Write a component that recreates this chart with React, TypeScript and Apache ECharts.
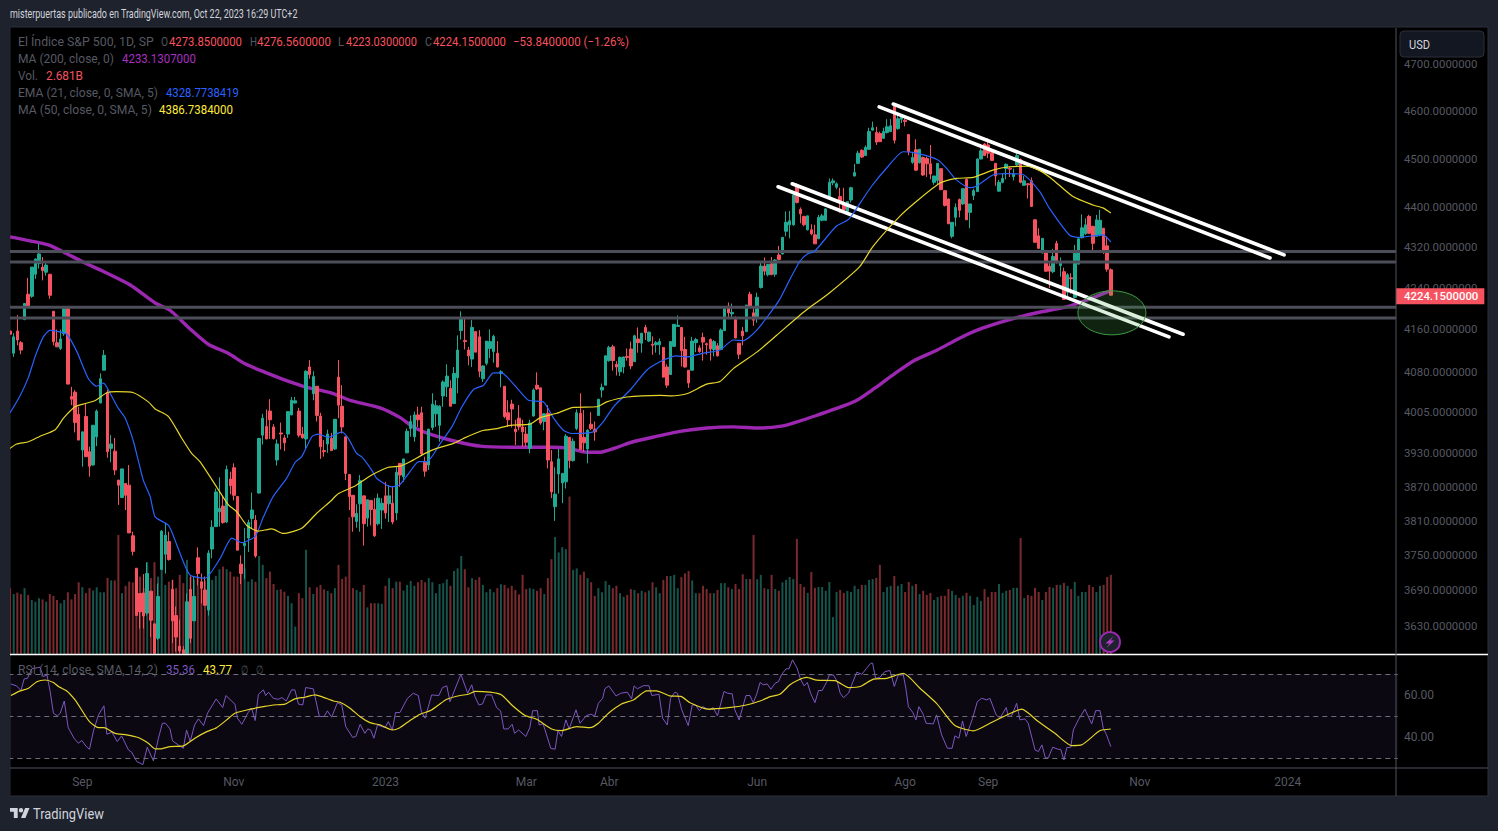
import React, { useEffect, useRef } from "react";
import * as echarts from "echarts";

// [open, close, low, high]
const candlesA: number[][] = [
[4155,4149,4138,4160],[4113,4144,4106,4151],[4155,4138,4128,4186],[4133,4119,4111,4136],[4177,4208,4176,4208],[4226,4203,4200,4258],[4222,4279,4219,4279],[4265,4295,4256,4296],[4286,4305,4276,4325],[4279,4272,4253,4299],
[4269,4283,4262,4291],[4265,4224,4217,4265],[4193,4135,4128,4193],[4133,4125,4125,4158],[4122,4140,4119,4158],[4150,4198,4146,4200],[4198,4055,4055,4201],[4032,4027,4016,4050],[4040,3984,3966,4044],[3999,3952,3952,4013],
[3934,3967,3904,3967],[3995,3922,3922,4019],[3931,3905,3886,3940],[3907,3979,3906,3979],[3958,4005,3941,4008],[4020,4065,4020,4075],[4081,4109,4081,4119],[4039,3931,3920,4044],[3937,3945,3912,3961],[3932,3898,3889,3956],
[3880,3871,3836,3880],[3849,3900,3849,3900],[3874,3853,3827,3874],[3871,3787,3787,3907],[3782,3755,3748,3789],[3726,3646,3646,3726],[3683,3652,3624,3683],[3684,3645,3624,3716],[3650,3717,3646,3736],[3687,3638,3610,3687],
[3632,3583,3583,3632],[3608,3678,3605,3700],[3724,3790,3724,3792],[3750,3783,3717,3805],[3772,3741,3739,3789],[3690,3637,3600,3706],[3646,3610,3586,3661],[3595,3587,3583,3639],[3589,3583,3582,3595],[3583,3669,3583,3683],
[3690,3608,3600,3712],[3637,3678,3637,3712],[3744,3717,3697,3762],[3703,3692,3666,3717],[3689,3663,3663,3712],[3655,3752,3646,3757],[3759,3797,3743,3809],[3798,3859,3798,3865],[3824,3830,3798,3885],[3834,3805,3803,3851],
[3806,3899,3804,3906],[3882,3870,3855,3895],[3902,3853,3844,3910],[3851,3757,3757,3851],[3733,3717,3699,3748],[3765,3769,3708,3795],[3778,3805,3754,3810],[3812,3827,3795,3858],[3809,3747,3744,3818],[3857,3955,3856,3956],
[3961,3992,3944,4000],[3977,3954,3954,4008],[4005,3989,3954,4027],[3976,3955,3953,3981],[3916,3945,3906,3953],[3965,3963,3935,3984],[3956,3947,3932,3961],[3963,4004,3956,4005],[3998,4025,3998,4031],[4020,4024,4019,4031],
[4005,3961,3957,4011],[3963,3956,3955,3976],[3954,4079,3937,4081],[4087,4073,4065,4100],[4037,4069,4025,4079],[4051,3997,3986,4051],[3996,3940,3918,4002],[3933,3931,3922,3952],[3945,3963,3929,3971],[3955,3933,3933,3965],
[3936,3990,3934,3990],[4068,4016,3992,4100],[4014,3976,3964,4053],[3958,3892,3880,3958],[3890,3851,3827,3890],[3853,3815,3789,3853],[3807,3821,3796,3837],[3838,3879,3789,3889],[3852,3803,3765,3852],[3813,3845,3798,3845],
[3844,3828,3800,3844],[3828,3782,3780,3848],[3803,3848,3800,3856],[3827,3839,3794,3848],[3852,3822,3812,3877],[3838,3852,3806,3871],[3839,3806,3802,3868],[3822,3894,3809,3904],[3910,3889,3868,3910],
];
const candlesB: number[][] = [
[3886,3918,3877,3918],[3929,3968,3928,3973],[3973,3986,3958,3997],[3958,3998,3949,4004],[3998,3989,3976,4013],[4002,3927,3925,4013],[3912,3896,3886,3922],[3907,3972,3898,3972],[3975,4018,3970,4038],[4000,4015,3976,4025],
[3979,4014,3949,4016],[4033,4059,4013,4062],[4050,4070,4031,4092],[4047,4014,4014,4062],[4019,4075,4018,4087],[4067,4119,4038,4147],[4156,4178,4139,4193],[4137,4135,4120,4181],[4119,4108,4090,4125],[4102,4162,4087,4176],
[4154,4115,4115,4154],[4144,4079,4068,4157],[4065,4089,4059,4090],[4094,4136,4090,4136],[4122,4135,4104,4158],[4116,4145,4095,4148],[4113,4087,4086,4136],[4075,4078,4049,4081],[4051,3995,3992,4051],[4002,3989,3976,4025],
[4018,4009,3975,4026],[3972,3967,3943,3989],[3992,3976,3970,4016],[3976,3967,3940,3989],[3963,3948,3940,3976],[3937,3983,3928,3989],[3996,4044,3995,4047],[4053,4046,4044,4077],[4048,3983,3980,4048],[3986,4000,3970,4001],
[4001,3916,3901,4016],[3913,3859,3848,3934],[3833,3855,3808,3903],[3891,3918,3856,3936],[3875,3892,3839,3892],[3877,3959,3865,3963],[3957,3915,3901,3957],[3915,3950,3913,3955],[3973,4002,3970,4008],[4001,3935,3934,4038],
[3957,3947,3931,4007],[3936,3970,3910,3972],[3981,3973,3970,4003],[3972,3967,3951,3986],[3997,4027,3996,4027],[4044,4049,4030,4056],[4053,4108,4053,4109],[4099,4124,4097,4127],[4125,4099,4080,4129],[4092,4087,4071,4098],
[4078,4105,4070,4107],[4087,4106,4075,4106],[4107,4105,4099,4122],[4121,4089,4083,4135],[4097,4146,4097,4148],[4140,4133,4114,4162],[4132,4151,4114,4151],[4162,4152,4138,4167],[4136,4153,4134,4154],[4130,4128,4110,4145],
[4129,4133,4114,4136],[4129,4135,4110,4141],[4124,4068,4068,4124],[4087,4053,4048,4092],[4073,4135,4072,4136],[4126,4168,4126,4168],[4164,4166,4163,4185],[4162,4118,4088,4162],[4120,4087,4086,4144],[4081,4057,4048,4081],
[4081,4136,4081,4144],[4133,4139,4115,4142],[4123,4116,4114,4128],[4143,4134,4099,4152],[4131,4129,4110,4133],[4139,4121,4099,4141],[4120,4135,4107,4138],[4127,4108,4107,4132],[4120,4157,4119,4160],[4156,4198,4155,4200],
[4203,4190,4178,4210],[4188,4191,4179,4208],[4177,4142,4141,4183],[4132,4111,4102,4132],[4155,4146,4128,4163],[4154,4205,4153,4205],[4226,4203,4201,4231],[4190,4176,4165,4203],[4179,4220,4171,4229],[4239,4281,4237,4288],
[4281,4271,4263,4298],[4264,4284,4261,4284],[4286,4264,4264,4299],[4265,4293,4260,4295],[4303,4294,4292,4321],[4305,4338,4304,4338],
];
const candlesC: number[][] = [
[4350,4368,4340,4390],[4363,4371,4336,4391],[4363,4423,4361,4426],[4443,4408,4406,4447],[4394,4385,4366,4398],[4380,4363,4360,4381],[4353,4381,4352,4381],[4353,4345,4342,4364],[4343,4325,4325,4363],[4335,4378,4335,4383],
[4372,4381,4370,4385],[4372,4395,4371,4396],[4420,4449,4420,4457],[4448,4452,4443,4457],[4439,4446,4435,4449],[4420,4409,4387,4438],[4403,4394,4393,4438],[4390,4410,4390,4410],[4413,4438,4408,4440],[4462,4469,4461,4487],
[4488,4509,4488,4514],[4515,4501,4499,4517],[4504,4521,4503,4525],[4517,4554,4517,4562],[4557,4562,4556,4575],[4552,4532,4526,4564],[4550,4533,4532,4554],[4540,4554,4539,4562],[4552,4564,4550,4580],[4554,4566,4554,4580],
[4607,4536,4529,4607],[4560,4581,4558,4592],[4580,4586,4572,4590],[4578,4575,4565,4582],[4548,4512,4505,4548],[4490,4500,4487,4512],[4516,4474,4472,4538],[4489,4517,4488,4517],[4500,4464,4462,4502],[4498,4487,4460,4502],
[4487,4466,4455,4526],[4449,4462,4444,4462],[4453,4488,4444,4488],[4477,4434,4433,4477],[4432,4402,4400,4432],[4415,4365,4365,4416],[4340,4368,4336,4368],[4378,4398,4360,4406],[4414,4392,4378,4416],[4405,4436,4403,4436],
[4455,4373,4373,4457],[4388,4405,4356,4405],[4422,4432,4413,4436],[4430,4497,4430,4498],[4497,4514,4496,4519],[4528,4504,4504,4530],[4526,4509,4499,4540],[4510,4494,4494,4511],[4488,4462,4442,4488],[4431,4449,4430,4454],
[4449,4457,4447,4467],[4477,4486,4455,4488],[4478,4476,4460,4482],[4461,4466,4453,4477],[4485,4504,4482,4512],[4496,4449,4447,4498],[4443,4452,4442,4462],[4446,4444,4416,4447],[4452,4400,4400,4459],[4373,4328,4328,4374],
[4341,4316,4315,4356],[4307,4336,4306,4336],[4309,4271,4270,4311],[4281,4271,4238,4290],[4270,4300,4267,4315],[4326,4288,4286,4331],[4282,4288,4260,4298],[4270,4216,4216,4278],[4230,4264,4221,4267],[4258,4256,4227,4267],
[4220,4306,4218,4323],[4285,4335,4284,4336],[4337,4357,4336,4384],[4345,4363,4343,4376],[4380,4346,4345,4383],[4360,4326,4311,4361],[4340,4373,4340,4383],[4342,4372,4340,4393],[4356,4310,4305,4357],[4321,4275,4270,4340],[4273.85,4224.15,4223.03,4276.56],
];
const candles = [...candlesA, ...candlesB, ...candlesC];

// volume in billions
const volumes: number[] = [
2.23,2.03,2.08,2.03,2.23,2.0,1.83,1.77,1.89,1.85,1.77,2.03,1.97,1.83,1.72,1.83,2.09,1.85,2.03,2.43,2.26,2.06,2.23,2.15,2.26,2.09,2.09,2.58,2.49,2.49,4.03,2.06,2.31,2.45,2.42,2.23,2.62,2.23,3.11,2.57,3.11,2.62,2.85,2.34,2.45,2.51,2.23,2.68,2.40,3.19,2.62,2.53,2.62,2.40,2.49,2.57,2.51,2.64,2.87,2.96,2.87,2.79,2.62,2.62,3.04,2.9,2.45,2.53,2.45,3.32,3.02,2.57,2.79,2.37,2.17,2.19,2.11,1.97,1.72,0.93,2.06,1.89,3.53,2.26,2.03,2.26,2.34,2.19,2.14,2.06,2.23,3.02,2.54,2.62,4.63,2.23,2.17,2.11,2.34,1.58,1.72,1.72,1.72,1.70,2.31,2.57,2.23,2.45,2.45,
2.15,2.34,2.47,2.31,2.43,2.51,2.43,2.57,2.43,2.06,2.37,2.40,2.53,2.31,2.81,2.90,3.32,2.87,2.26,2.57,2.51,2.60,2.34,2.09,2.20,2.09,2.23,2.36,2.34,2.23,2.31,2.17,2.02,2.68,2.20,2.23,2.20,2.14,2.23,2.03,2.57,3.21,3.96,3.44,3.62,3.55,5.33,2.85,2.90,2.68,2.79,2.57,2.43,1.97,2.23,2.09,2.47,2.34,2.23,2.31,2.06,1.94,2.00,2.20,2.17,2.06,2.14,2.09,2.15,2.43,2.26,2.06,2.51,2.64,2.64,2.68,2.23,2.60,2.73,2.81,2.49,2.06,2.06,2.31,2.20,2.06,2.06,2.17,2.40,2.40,2.26,2.20,2.37,2.20,2.70,2.54,2.54,4.03,2.53,2.68,2.23,2.20,2.68,2.20,2.14,2.43,
2.51,2.61,2.54,3.90,2.37,2.27,2.07,2.78,2.24,2.27,2.27,2.14,2.44,1.25,2.10,2.17,2.07,2.14,2.10,2.31,2.20,2.34,2.34,2.51,2.54,2.58,3.02,2.10,2.27,2.31,2.64,2.31,2.37,2.10,2.44,2.31,2.37,2.03,2.14,2.00,2.07,1.83,1.93,1.97,1.97,2.20,2.14,2.00,1.90,1.97,2.07,1.97,1.66,1.93,1.80,2.20,1.93,2.10,2.10,2.37,2.07,2.14,2.17,2.24,2.24,3.93,1.90,2.00,1.97,2.24,2.10,1.83,2.10,2.27,2.24,2.34,2.34,2.41,2.31,2.20,2.44,1.97,2.10,2.10,2.34,2.27,2.10,2.31,2.34,2.61,2.68,
];

// moving averages: [bar index, price], knots
const ma200: number[][] = [[0,4339],[8.3,4327],[11,4322],[15,4308],[20.8,4287],[26.3,4269],[33.3,4244],[40.2,4209],[44.3,4195],[49.9,4159],[54.9,4130],[60.4,4113],[65.1,4093],[70.7,4077],[77.6,4059],[81.7,4050],[88.7,4039],[94.2,4025],[102.5,4011],[108.1,3993],[111.7,3976],[117.2,3961],[123.9,3949],[130.2,3941],[139.4,3939],[149.6,3939],[154.3,3938],[159.9,3930],[163.5,3930],[168.2,3939],[172.6,3949],[180.1,3960],[185.6,3968],[193.1,3974],[200.3,3976],[207.8,3974],[214.2,3978],[218.9,3987],[223,3996],[228.6,4009],[234.1,4023],[239.7,4048],[245.2,4075],[250.8,4100],[256.9,4119],[263.2,4142],[269.6,4161],[281.8,4186],[292.9,4202],[298.4,4215],[305,4233.13]];
const ema21: number[][] = [[0,4002],[2.8,4034],[5.1,4068],[6.9,4106],[9.2,4144],[11.1,4157],[13.4,4154],[15.7,4149],[18.5,4116],[21.7,4065],[24,4051],[25.9,4057],[27.7,4038],[30,4010],[31.9,3992],[34.2,3949],[36.9,3880],[38.8,3851],[40.2,3815],[43.9,3800],[46.2,3766],[48,3737],[49.9,3714],[54,3709],[58.2,3743],[61.4,3778],[64.2,3770],[67.9,3781],[70.2,3815],[72.9,3851],[76.6,3883],[79,3912],[80.8,3922],[83.6,3958],[85.4,3963],[88.2,3957],[91.9,3967],[93.7,3955],[96,3928],[97.4,3922],[100.2,3898],[101.6,3883],[105.7,3868],[108,3872],[110.8,3895],[113.2,3913],[115.5,3913],[119.2,3946],[122.4,3976],[125.2,4013],[128.4,4045],[131.2,4053],[133.9,4076],[136.2,4076],[139.5,4055],[143.6,4025],[147.8,4022],[150.6,3992],[153.3,3970],[155.6,3964],[161.6,3967],[164.4,3986],[167.2,4013],[171.8,4044],[176.4,4081],[180.1,4097],[184.7,4108],[187.5,4106],[192.1,4113],[196.7,4119],[200.4,4138],[203.2,4137],[206.9,4157],[212.9,4212],[216,4254],[218.8,4290],[221.1,4306],[222.9,4310],[228.9,4360],[232.2,4373],[234,4390],[238.6,4440],[243.3,4482],[247.4,4512],[251.1,4509],[257.1,4495],[259.9,4474],[262.2,4454],[265.9,4438],[267.7,4441],[272.3,4464],[276,4467],[280.6,4465],[285.3,4430],[288,4396],[293.6,4342],[296.3,4338],[302.8,4343],[305,4328.77]];
const ma50: number[][] = [[0,3937],[1.8,3945],[5.1,3949],[8.3,3959],[12.5,3971],[14.8,3992],[18,4013],[20.8,4019],[23.5,4024],[26.8,4039],[29.5,4041],[34.2,4039],[38.3,4022],[40.2,4009],[43.9,3995],[47.6,3955],[50.3,3928],[52.6,3913],[57.2,3868],[60.5,3836],[62.8,3824],[65.6,3800],[68.8,3790],[72.5,3794],[75.7,3786],[80.8,3795],[84.9,3821],[88.7,3842],[91,3856],[95.1,3868],[100.2,3889],[104.8,3903],[108,3905],[110.8,3913],[115,3928],[118.2,3937],[122.9,3946],[125.6,3955],[130.7,3969],[134.9,3973],[138.5,3979],[144.1,3981],[146.9,3993],[151.5,4001],[156.1,4012],[162.6,4013],[165.3,4022],[170.9,4031],[180.1,4034],[183.3,4033],[187.5,4037],[193,4055],[196.7,4060],[200.4,4084],[206.9,4115],[212.4,4147],[218.9,4186],[221.1,4198],[227.1,4229],[235.4,4280],[239.1,4320],[246.5,4380],[251.6,4413],[257.6,4447],[262.2,4457],[266.8,4459],[272.3,4474],[277,4481],[281.6,4482],[285.3,4473],[288.5,4457],[294.5,4420],[300,4403],[302.8,4397],[305,4386.74]];

const rsi: number[][] = [[0.2,65.2],[1.8,64.3],[3,62.1],[3.9,67.6],[4.8,67.9],[6,72.4],[8.3,73.2],[9.2,68.7],[10.2,69.5],[11.1,61.6],[12,51.3],[13.1,50],[13.9,51.3],[15,57.1],[16.1,44.4],[17.7,39.4],[18.9,37],[19.9,38.3],[21.1,35.4],[22,34.1],[23.1,42.9],[24.5,50.5],[26,54.8],[26.8,41.3],[28.2,42.2],[29.7,37.8],[30.9,40.5],[32.8,33.8],[33.7,32.7],[35.1,28.3],[36.8,26.8],[38,35.1],[39.7,28.6],[41.1,39.4],[42.2,46.5],[43.1,46.5],[44.3,43.8],[45,38.1],[46.6,36.2],[48,34.6],[48.9,43.3],[49.9,37.8],[51.1,45.7],[52.2,48.6],[53.6,45.4],[54.7,51.3],[57.1,58.1],[58.9,54],[59.8,59.7],[62.3,55.6],[63,48.9],[64.2,46],[66,51.7],[66.9,53.7],[67.9,47.8],[68.8,60.3],[70.2,62.4],[70.8,59.7],[71.6,61.3],[72.9,58.4],[74.3,57.9],[75.3,58.7],[76.5,57.1],[78,62.4],[78.9,62.4],[79.9,55.6],[81.1,55.2],[81.9,63.5],[84,62.9],[85.7,49.7],[87,49.7],[87.9,52.4],[89.1,49.4],[90.7,56.3],[91.9,55.2],[93,44.9],[94.9,39.8],[95.8,40.2],[97,46],[98.3,41.7],[99.1,43.8],[99.9,43.3],[100.8,39.4],[101.8,45.7],
[103.9,44.4],[104.8,47.3],[105.9,43.3],[106.8,51.6],[108,51.6],[110.1,58.4],[111.7,60.8],[113.1,59.7],[114,51.7],[115,48.9],[116.8,60],[118.8,59.7],[119.8,63.5],[121,64.3],[121.9,56.8],[124.9,69.8],[126.8,60.8],[127.9,64.8],[128.8,59.2],[129.9,55.2],[130.9,55.7],[131.9,60],[133.4,60],[134.8,54],[135.9,52.4],[136.8,43.8],[138,43.8],[139.1,46],[139.8,41.7],[140.9,43.3],[142.9,40.2],[144,44.4],[144.8,52.5],[146.1,52.5],[146.6,45.7],[147.7,46.2],[149.8,34.6],[151,34.1],[151.8,42.9],[152.8,40.2],[154,48.1],[154.9,43.8],[156.8,52.9],[157.9,46.5],[159.7,50.2],[160.9,50.8],[162,50],[163,56],[164.2,58.4],[164.8,62.9],[165.9,64.3],[167.9,59.5],[169.2,60.8],[171,61.3],[172.2,58.1],[172.9,64.3],[173.8,62.9],[175.5,64.4],[177,64.4],[177.8,59.7],[179.8,60.3],[180.8,48.9],[182.1,45.7],[183,58.4],[184.2,61.3],[184.9,60.8],[186.1,52.9],[187.9,45.4],[189,55.2],[189.9,55.2],[191,52.5],[191.9,54.4],[193.7,52.9],[194.8,54],[196,50],[197.8,61.6],[198.8,60.8],[200.1,60.5],[200.8,52.9],[202,48.1],[203.9,59.7],[205,59.7],[205.9,56.3],[206.8,60],[207.8,65.9],
[208.7,64.8],[209.8,65.2],[210.8,62.7],[212,65.6],[212.9,66.3],[213.8,69.8],[215,72.4],[215.8,72.4],[216.8,76.7],[218,73],[219,67.5],[220,64.3],[220.9,65.9],[221.8,60.8],[223,56.3],[224,62.1],[225,62.1],[226.3,66.3],[227,69.5],[228.1,69.5],[229.2,66.3],[230,60.8],[230.9,58.7],[232.3,60.8],[233.2,64.8],[234.6,70.8],[236,69.8],[237.3,72.7],[238.5,75.1],[239,75.1],[239.8,67.9],[241,68.3],[242.4,71.1],[243.8,71.6],[245,64],[246.1,69.5],[247.5,69.5],[248.2,63.2],[248.9,54.4],[250.1,51.7],[251,48.1],[251.8,54.4],[253,50.8],[253.8,46.5],[255.8,46.2],[256.7,50.5],[258.1,41],[259.7,34.6],[261,34.6],[261.8,40.5],[262.9,39.4],[263.9,47.6],[264.9,40.2],[266.7,48.9],[268,56.8],[269.2,58.4],[270.6,57.6],[271.5,58.4],[273.2,50.5],[274.3,48.9],[276,54],[276.6,49.7],[277.5,50],[278.9,56],[279.8,48.1],[281.2,48.6],[282.1,46.5],[284,33.8],[284.9,33],[285.9,36.2],[286.9,29.8],[287.7,30.2],[288.9,35.1],[290.4,34.1],[291.1,34.1],[292,29],[292.8,34.9],[293.9,35.1],[294.6,43.3],[296,48.1],[297.8,53.2],[299.7,46.2],[300.8,52.5],[302,52.5],[302.9,44.1],[303.8,41],[305,35.36]];
const rsiMa: number[][] = [[0.2,59.7],[2.8,61.9],[5.1,63.2],[7.4,66.3],[9.7,67.1],[12,65.9],[13.4,64],[15.7,61.9],[18,57.6],[20.1,52.1],[22,47.3],[24.5,44.4],[26,44.4],[29.1,41.7],[32.3,41],[35.5,39.7],[38.3,37],[40.2,34.3],[41.6,34.3],[44.3,35.4],[48,35.7],[51.2,39.4],[54.5,42.5],[57.2,44.4],[60,48.1],[62.3,51.3],[66.5,53.2],[70.2,54.4],[72.9,55.2],[76.2,55.6],[78.9,58.1],[81.7,58.9],[84.5,60],[86.3,59.2],[89.6,57.1],[91.4,56.5],[94.2,53.7],[96.9,49.7],[99.7,46.8],[102.5,45.7],
[105.9,43.3],[108,44.4],[110.8,47.8],[113.6,50.8],[116.4,52.5],[118.7,55.2],[121,57.9],[124.7,59.7],[127,60.3],[128.8,61.7],[133,61.3],[136.2,60],[139,55.2],[142.7,50.2],[145.9,48.4],[150,43.8],[152.8,43],[157,44.9],[160.7,44.4],[163,46.5],[165.8,51.3],[169.4,55.7],[172.7,57.6],[176.4,61.9],[179.1,61.9],[182.8,59.5],[186,59.2],[188.4,56.3],[193.5,53.2],[199,53.9],[204,55.2],[207.8,57.1],
[210.6,59.2],[213.3,60.3],[216.1,64.8],[218.4,67.1],[220.7,68.3],[223.5,67],[228.6,66.8],[232.3,63.5],[235.5,64],[239.2,67.5],[242.9,67.9],[247.5,70.3],[252.1,63.2],[256.7,56],[261.8,45.4],[266.9,42.9],[271.5,46.5],[276.6,50.8],[280.3,53.2],[284.9,47.3],[289.5,41.7],[294.1,35.9],[296.9,36.2],[301.9,42.9],[305,43.77]];

const rsiBands = [70, 50, 30];
const levelPrices = [4310, 4289, 4201, 4180];
const trendLines: number[][][] = [
  [[244.7, 4612], [353, 4303]],
  [[240.8, 4606], [349.1, 4297]],
  [[216.7, 4446], [325, 4149]],
  [[212.8, 4440], [321.1, 4144]],
];
const zone = [305.3, 4190];
const priceTicks = [4700, 4600, 4500, 4400, 4320, 4240, 4160, 4080, 4005, 3930, 3870, 3810, 3750, 3690, 3630];
const lastPrice = 4224.15;
const rsiTicks = [40, 60];
const timeTicks: Record<number, string> = { 20: "Sep", 62: "Nov", 104: "2023", 143: "Mar", 166: "Abr", 207: "Jun", 248: "Ago", 271: "Sep", 313: "Nov", 354: "2024" };

const SLOTS = 385;
const slotLabels = Array.from({ length: SLOTS }, (_, i) => timeTicks[i] || "");

const BG = "#1e222d";
const GREEN = "#22ab94";
const RED = "#f7525f";
const DIM = "#565963";
const LOGO = "M14 22H7V11H0V4h14v18zM28 22h-8l7.5-18h8L28 22zM24 8a4 4 0 1 1-8 0 4 4 0 0 1 8 0z";
echarts.graphic.registerShape("tvlogo", echarts.graphic.extendPath(LOGO, {}) as any);

const FONT = "Roboto";
const measureCtx = document.createElement("canvas").getContext("2d")!;
function txt(x: number, y: number, text: string, width: number, fill: string, size = 12, weight: any = "normal") {
  measureCtx.font = `${weight} ${size}px ${FONT}`;
  const w = measureCtx.measureText(text).width || 1;
  return {
    type: "text", x, y, scaleX: width / w, z: 60, silent: true,
    style: { text, fill, font: `${weight} ${size}px ${FONT}`, verticalAlign: "middle", align: "left" },
  };
}

export default function App() {
  const ref = useRef<HTMLDivElement>(null);
  useEffect(() => {
    const chart = echarts.init(ref.current!, undefined, { renderer: "svg" });
    const levelSeries = levelPrices.map((p) => ({
      type: "line", xAxisIndex: 1, yAxisIndex: 0, data: [[-0.5, p], [384, p]], symbol: "none", z: 5, silent: true,
      lineStyle: { color: "#4c4e59", width: 3 },
    }));
    const trendSeries = trendLines.map((d) => ({
      type: "line", xAxisIndex: 1, yAxisIndex: 0, data: d, symbol: "none", z: 6, silent: true, clip: false,
      lineStyle: { color: "#ffffff", width: 3.6, cap: "round" },
    }));
    const G: any[] = [
      { type: "rect", z: -5, silent: true, shape: { x: 10, y: 27, width: 1478, height: 769 }, style: { fill: "#000", stroke: "#2a2e39", lineWidth: 1 } },
      { type: "rect", z: 50, silent: true, shape: { x: 0, y: 28, width: 10, height: 768 }, style: { fill: BG } },
      { type: "line", z: 52, silent: true, shape: { x1: 10, y1: 654.5, x2: 1488, y2: 654.5 }, style: { stroke: "#ffffff", lineWidth: 1.5 } },
      { type: "line", z: 52, silent: true, shape: { x1: 10, y1: 768, x2: 1488, y2: 768 }, style: { stroke: "#50535e", lineWidth: 1 } },
      { type: "line", z: 52, silent: true, shape: { x1: 1396, y1: 28, x2: 1396, y2: 796 }, style: { stroke: "#50535e", lineWidth: 1 } },
      { type: "rect", z: 55, silent: true, shape: { x: 1400, y: 31, width: 84, height: 26, r: 4 }, style: { fill: "#131722", stroke: "#2a2e39", lineWidth: 1 } },
      txt(1409, 45, "USD", 21, "#d1d4dc", 12),
      txt(10, 14, "misterpuertas publicado en TradingView.com, Oct 22, 2023 16:29 UTC+2", 288, "#d1d4dc", 12.5),
      txt(18, 42, "El Índice S&P 500, 1D, SP", 136, DIM),
      txt(161, 42, "O", 7, DIM), txt(169, 42, "4273.8500000", 73, RED),
      txt(250, 42, "H", 7, DIM), txt(257, 42, "4276.5600000", 74, RED),
      txt(338, 42, "L", 6, DIM), txt(346, 42, "4223.0300000", 71, RED),
      txt(425, 42, "C", 7, DIM), txt(433, 42, "4224.1500000", 73, RED),
      txt(513, 42, "−53.8400000 (−1.26%)", 116, RED),
      txt(18, 59, "MA (200, close, 0)", 96, DIM), txt(122, 59, "4233.1307000", 74, "#a92fc0"),
      txt(18, 76, "Vol.", 20, DIM), txt(46, 76, "2.681B", 37, RED),
      txt(18, 93, "EMA (21, close, 0, SMA, 5)", 140, DIM), txt(166, 93, "4328.7738419", 73, "#2962ff"),
      txt(18, 110, "MA (50, close, 0, SMA, 5)", 134, DIM), txt(159, 110, "4386.7384000", 74, "#ffeb3b"),
      txt(18, 670, "RSI (14, close, SMA, 14, 2)", 140, DIM), txt(166, 670, "35.36", 29, "#7e57c2"),
      txt(203, 670, "43.77", 29, "#ffeb3b"), txt(241, 670, "∅", 7, DIM), txt(256, 670, "∅", 7, DIM),
      { type: "tvlogo", x: 10, y: 805.8, scaleX: 0.55, scaleY: 0.55, z: 60, silent: true, style: { fill: "#d1d4dc" } },
      txt(33, 814, "TradingView", 71, "#d1d4dc", 14, 400),
      { type: "circle", z: 58, silent: true, shape: { cx: 1110, cy: 642, r: 10 }, style: { fill: "#1e222d", stroke: "#9c27b0", lineWidth: 2 } },
      { type: "polygon", z: 59, silent: true, shape: { points: [[1113.5, 636], [1105.5, 643.5], [1109.5, 643.5], [1106.5, 648], [1114.5, 640.5], [1110.5, 640.5]] }, style: { fill: "#b13cc7" } },
    ];
    chart.setOption({
      animation: false,
      backgroundColor: BG,
      textStyle: { fontFamily: FONT },
      grid: [
        { left: 8.3, top: 28, width: SLOTS * 3.609, height: 626 },
        { left: 8.3, top: 655, width: SLOTS * 3.609, height: 113 },
      ],
      xAxis: [
        { type: "category", gridIndex: 0, data: slotLabels, show: false, boundaryGap: true },
        { type: "value", gridIndex: 0, min: -0.5, max: SLOTS - 0.5, show: false },
        {
          type: "category", gridIndex: 1, data: slotLabels, boundaryGap: true, position: "bottom",
          axisLine: { show: false }, axisTick: { show: false },
          axisLabel: { interval: (_: number, v: string) => v !== "", color: DIM, fontSize: 12, margin: 8, fontFamily: FONT },
        },
        { type: "value", gridIndex: 1, min: -0.5, max: SLOTS - 0.5, show: false },
      ],
      yAxis: [
        { type: "log", gridIndex: 0, min: 3582, max: 4776, show: false },
        { type: "value", gridIndex: 0, min: 0, max: 21.2, show: false },
        {
          type: "value", gridIndex: 1, min: 25.2, max: 79, position: "right", splitLine: { show: false },
          axisLine: { show: false }, axisTick: { show: false },
          axisLabel: { customValues: rsiTicks, color: DIM, fontSize: 12, margin: 6.2, formatter: (v: number) => v.toFixed(2), fontFamily: FONT },
        },
      ],
      graphic: G,
      series: [
        {
          type: "bar", xAxisIndex: 0, yAxisIndex: 1, barWidth: 2, z: 1, silent: true,
          data: volumes.map((v, i) => ({
            value: v,
            itemStyle: { color: candles[i][1] >= candles[i][0] ? "#16544c" : "#7a2a2e" },
          })),
        },
        { type: "line", xAxisIndex: 1, yAxisIndex: 0, data: ma200, symbol: "none", smooth: 0.25, z: 2, silent: true, lineStyle: { color: "#9c27b0", width: 3.4 } },
        {
          type: "candlestick", xAxisIndex: 0, yAxisIndex: 0, data: candles, barWidth: 3, z: 3, silent: true,
          itemStyle: { color: GREEN, color0: RED, borderColor: GREEN, borderColor0: RED, borderWidth: 1 },
        },
        ...levelSeries,
        { type: "line", xAxisIndex: 1, yAxisIndex: 0, data: ema21, symbol: "none", smooth: 0.2, z: 7, silent: true, lineStyle: { color: "#2962ff", width: 1.2 } },
        { type: "line", xAxisIndex: 1, yAxisIndex: 0, data: ma50, symbol: "none", smooth: 0.2, z: 7, silent: true, lineStyle: { color: "#e6d52a", width: 1.2 } },
        ...trendSeries,
        {
          type: "custom", xAxisIndex: 1, yAxisIndex: 0, data: [zone], z: 8, silent: true, clip: false,
          renderItem: (_: any, api: any) => {
            const c = api.coord([api.value(0), api.value(1)]);
            return {
              type: "ellipse", shape: { cx: c[0], cy: c[1], rx: 34, ry: 22 },
              style: { fill: "rgba(76,175,80,0.2)", stroke: "#3f9d46", lineWidth: 1 },
            };
          },
        },
        {
          type: "scatter", xAxisIndex: 1, yAxisIndex: 0, clip: false, silent: true, symbolSize: 1, z: 20,
          itemStyle: { color: "transparent", opacity: 1 },
          data: priceTicks.map((p) => [SLOTS - 0.5, p]),
          label: { show: true, position: "right", distance: 5.7, offset: [0, 1], color: DIM, fontSize: 11.4, fontFamily: FONT, formatter: (p: any) => p.value[1].toFixed(7) },
        },
        {
          type: "scatter", xAxisIndex: 1, yAxisIndex: 0, clip: false, silent: true, symbolSize: 1, z: 40,
          itemStyle: { color: "transparent", opacity: 1 },
          data: [[SLOTS - 0.5, lastPrice]],
          label: {
            show: true, position: "right", distance: -2.3, offset: [0, 1], color: "#fff", fontSize: 11.4, fontFamily: FONT, fontWeight: 500,
            backgroundColor: RED, padding: [3, 6, 2, 8], formatter: (p: any) => p.value[1].toFixed(7),
          },
        },
        {
          type: "line", xAxisIndex: 3, yAxisIndex: 2, data: rsi, symbol: "none", z: 4, silent: true,
          lineStyle: { color: "#7e57c2", width: 1 },
          markArea: { silent: true, itemStyle: { color: "rgba(126,87,194,0.09)" }, data: [[{ yAxis: 70 }, { yAxis: 30 }]] },
          markLine: {
            silent: true, symbol: "none", label: { show: false },
            lineStyle: { color: "#6f6d7a", type: [5, 4], width: 1 },
            data: rsiBands.map((b) => ({ yAxis: b })),
          },
        },
        { type: "line", xAxisIndex: 3, yAxisIndex: 2, data: rsiMa, symbol: "none", smooth: 0.2, z: 5, silent: true, lineStyle: { color: "#e6d52a", width: 1.2 } },
      ],
    } as any);
    return () => chart.dispose();
  }, []);
  return <div ref={ref} style={{ position: "absolute", left: 0, top: 0, width: 1498, height: 831 }} />;
}
